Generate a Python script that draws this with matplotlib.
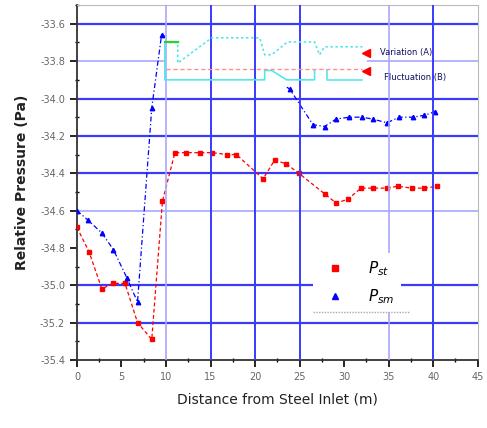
import matplotlib
matplotlib.use("Agg")
import matplotlib.pyplot as plt
from matplotlib.lines import Line2D
from matplotlib.patches import Rectangle

# --- data ---
red_x = [0.0, 1.35, 2.8, 4.0, 5.4, 6.8, 8.4, 9.6, 11.0, 12.3, 13.8, 15.2, 16.8, 17.9,
         20.9, 22.2, 23.5, 24.9, 27.8, 29.1, 30.4, 31.9, 33.2, 34.8, 36.0, 37.6, 39.0, 40.4]
red_y = [-34.69, -34.82, -35.02, -34.99, -34.99, -35.20, -35.29, -34.55, -34.29, -34.29,
         -34.29, -34.29, -34.30, -34.30, -34.43, -34.33, -34.35, -34.40, -34.51, -34.56,
         -34.54, -34.48, -34.48, -34.48, -34.47, -34.48, -34.48, -34.47]

blue_x = [0.0, 1.2, 2.8, 4.1, 5.6, 6.8, 8.4, 9.5, 13.0, 18.0, 23.9, 26.5, 27.8, 29.1,
          30.6, 32.0, 33.2, 34.8, 36.2, 37.7, 39.0, 40.2]
blue_y = [-34.60, -34.65, -34.72, -34.81, -34.96, -35.09, -34.05, -33.66, -33.70, -33.76,
          -33.95, -34.14, -34.15, -34.11, -34.10, -34.10, -34.11, -34.13, -34.10, -34.10,
          -34.09, -34.07]

# inset traces (upper band, lower band, reference line)
band_top_x = [9.87, 11.32, 11.32, 15.13, 20.52, 21.08, 21.86, 23.65, 26.68, 27.24, 27.8, 32.06]
band_top_y = [-33.70, -33.70, -33.81, -33.675, -33.675, -33.766, -33.766, -33.697, -33.697,
              -33.766, -33.723, -33.723]
band_low_x = [9.87, 9.87, 21.08, 21.08, 21.86, 23.54, 26.68, 26.68]
band_low_y = [-33.70, -33.90, -33.90, -33.85, -33.85, -33.90, -33.90, -33.85]
band_low2_x = [28.03, 28.03, 32.06]
band_low2_y = [-33.85, -33.90, -33.90]
green_x = [9.87, 11.32]
green_y = [-33.70, -33.70]
ref_x = [10.0, 32.06]
ref_y = [-33.84, -33.84]

inset_labels = ["Variation (A)", "Fluctuation (B)"]
series_labels = [r"$P_{st}$", r"$P_{sm}$"]

x_ticks = [0, 5, 10, 15, 20, 25, 30, 35, 40, 45]
y_ticks = [-35.4, -35.2, -35.0, -34.8, -34.6, -34.4, -34.2, -34.0, -33.8, -33.6]

bright_h = [-33.6, -34.0, -34.2, -34.4, -35.0, -35.2]
light_h = [-33.8, -34.6]
bright_v = [15, 20, 25, 40]
light_v = [10, 35]

fig = plt.figure(figsize=(4.87, 4.28), dpi=100)
ax = fig.add_axes([0.158, 0.159, 0.823, 0.829])

for y in bright_h:
    ax.axhline(y, color="#3a3aff", lw=1.6, zorder=1)
for y in light_h:
    ax.axhline(y, color="#a8a8ff", lw=1.2, zorder=1)
for x in bright_v:
    ax.axvline(x, color="#3a3aff", lw=1.4, zorder=4.5)
for x in light_v:
    ax.axvline(x, color="#a8a8ff", lw=1.2, zorder=4.5)

ax.plot(red_x, red_y, color="red", ls=(0, (3, 2)), lw=0.9, marker="s", ms=3, zorder=3)
ax.plot(blue_x, blue_y, color="blue", ls=(0, (4, 2, 1, 2)), lw=0.9, marker="^", ms=3.2, zorder=3)

# white inset box covering grid and trace
ax.add_patch(Rectangle((9.87, -33.935), 22.7, 0.30, facecolor="white", edgecolor="none", zorder=4))
ax.plot(band_top_x, band_top_y, color="#55e8e8", lw=1.2, ls=(0, (1.5, 1.5)), zorder=5)
ax.plot(band_low_x, band_low_y, color="#55e8e8", lw=1.2, zorder=5)
ax.plot(band_low2_x, band_low2_y, color="#55e8e8", lw=1.2, zorder=5)
ax.plot(green_x, green_y, color="#33cc33", lw=1.6, zorder=6)
ax.plot(ref_x, ref_y, color="#ff9090", lw=1.0, ls=(0, (3, 2)), zorder=5)
ax.plot([32.5, 32.5], [-33.755, -33.855], ls="none", marker="<", color="red", ms=6, zorder=6)
ax.text(34.0, -33.755, inset_labels[0], color="#101060", fontsize=6, va="center", zorder=6)
ax.text(34.5, -33.885, inset_labels[1], color="#101060", fontsize=6, va="center", zorder=6)

handles = [Line2D([], [], ls="none", marker="s", color="red", ms=4),
           Line2D([], [], ls="none", marker="^", color="blue", ms=5)]
leg = ax.legend(handles, series_labels, loc="lower left", bbox_to_anchor=(0.59, 0.135, 0.24, 0.175),
                frameon=True, fontsize=11, handletextpad=1.2, labelspacing=0.6, borderaxespad=0)
leg.get_frame().set_edgecolor("none")
leg.get_frame().set_facecolor("white")
leg.get_frame().set_alpha(1)
leg.set_zorder(7)
ax.axhline(-35.144, xmin=0.59, xmax=0.83, color="#aaaaaa", lw=1.0, ls=(0, (1, 1)), zorder=8)

ax.set_xlim(0, 45)
ax.set_ylim(-35.4, -33.5)
ax.set_xticks(x_ticks)
ax.set_yticks(y_ticks)
ax.set_yticklabels([f"{v:.1f}" for v in y_ticks])
ax.set_xticks([x + 2.5 for x in x_ticks[:-1]], minor=True)
ax.set_yticks([v + 0.1 for v in y_ticks], minor=True)
ax.tick_params(which="major", direction="out", length=5, width=1.2, labelsize=7, labelcolor="#666666")
ax.tick_params(which="minor", direction="inout", length=3, width=1.0)

for side in ["top", "right"]:
    ax.spines[side].set_color("#bbbbbb")
for side in ["left", "bottom"]:
    ax.spines[side].set_color("#333333")
    ax.spines[side].set_linewidth(1.3)

ax.set_xlabel("Distance from Steel Inlet (m)", fontsize=10, labelpad=8, color="#222222")
ax.set_ylabel("Relative Pressure (Pa)", fontsize=10, fontweight="bold", labelpad=8, color="#222222")

fig.savefig("out.png", dpi=100)
